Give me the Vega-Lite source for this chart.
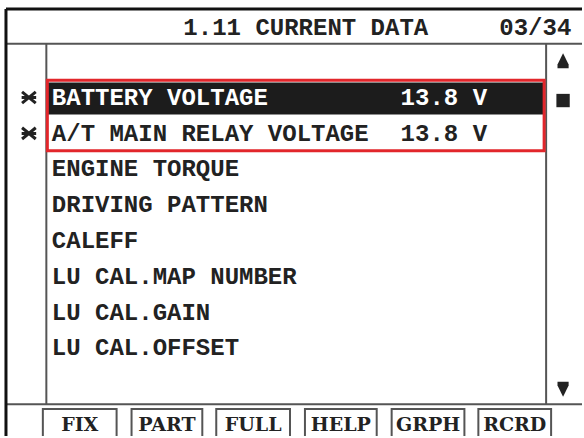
{
  "$schema": "https://vega.github.io/schema/vega-lite/v6.json",
  "width": 584,
  "height": 438,
  "autosize": {"type": "fit", "contains": "padding"},
  "padding": 0,
  "background": "white",
  "config": {"view": {"stroke": null}},
  "datasets": {
    "lines": [
      {"x1": 6, "y1": 9, "x2": 584, "y2": 9, "kind": "border"},
      {"x1": 6, "y1": 9, "x2": 6, "y2": 438, "kind": "border"},
      {"x1": 6, "y1": 44, "x2": 584, "y2": 44, "kind": "grid"},
      {"x1": 46.5, "y1": 44, "x2": 46.5, "y2": 406, "kind": "grid"},
      {"x1": 548, "y1": 44, "x2": 548, "y2": 406, "kind": "grid"},
      {"x1": 6, "y1": 406, "x2": 584, "y2": 406, "kind": "grid"}
    ],
    "buttons": [
      {"label": "FIX", "x1": 43, "x2": 117},
      {"label": "PART", "x1": 132, "x2": 203},
      {"label": "FULL", "x1": 217, "x2": 291},
      {"label": "HELP", "x1": 306, "x2": 378},
      {"label": "GRPH", "x1": 393, "x2": 466},
      {"label": "RCRD", "x1": 480, "x2": 553}
    ],
    "rows": [
      {"label": "BATTERY VOLTAGE", "value": "13.8 V", "y": 98, "sel": "yes"},
      {"label": "A/T MAIN RELAY VOLTAGE", "value": "13.8 V", "y": 135, "sel": "no"},
      {"label": "ENGINE TORQUE", "value": "", "y": 170, "sel": "no"},
      {"label": "DRIVING PATTERN", "value": "", "y": 206, "sel": "no"},
      {"label": "CALEFF", "value": "", "y": 242, "sel": "no"},
      {"label": "LU CAL.MAP NUMBER", "value": "", "y": 278, "sel": "no"},
      {"label": "LU CAL.GAIN", "value": "", "y": 314, "sel": "no"},
      {"label": "LU CAL.OFFSET", "value": "", "y": 350, "sel": "no"}
    ],
    "stars": [
      {"x": 29, "y": 98},
      {"x": 29, "y": 134}
    ],
    "arrows": [
      {"x": 565, "y": 61, "shape": "M0,-1L0.75,0.5L0.75,1L-0.75,1L-0.75,0.5Z"},
      {"x": 565, "y": 101, "shape": "M-0.9,-0.9L0.9,-0.9L0.9,0.9L-0.9,0.9Z"},
      {"x": 565, "y": 391, "shape": "M0,1L0.75,-0.5L0.75,-1L-0.75,-1L-0.75,-0.5Z"}
    ]
  },
  "layer": [
    {
      "data": {"values": [{"x1": 48, "x2": 546, "y1": 83, "y2": 115}]},
      "mark": {"type": "rect", "color": "#1c1c1c"},
      "encoding": {
        "x": {"field": "x1", "type": "quantitative", "scale": {"domain": [0, 584], "nice": false, "zero": false}, "axis": null},
        "x2": {"field": "x2"},
        "y": {"field": "y1", "type": "quantitative", "scale": {"domain": [0, 438], "nice": false, "zero": false, "reverse": true}, "axis": null},
        "y2": {"field": "y2"}
      }
    },
    {
      "data": {"name": "lines"},
      "transform": [{"filter": "datum.kind == 'grid'"}],
      "mark": {"type": "rule", "color": "#555555", "strokeWidth": 2},
      "encoding": {
        "x": {"field": "x1", "type": "quantitative", "scale": {"domain": [0, 584], "nice": false, "zero": false}, "axis": null},
        "x2": {"field": "x2"},
        "y": {"field": "y1", "type": "quantitative", "scale": {"domain": [0, 438], "nice": false, "zero": false, "reverse": true}, "axis": null},
        "y2": {"field": "y2"}
      }
    },
    {
      "data": {"name": "lines"},
      "transform": [{"filter": "datum.kind == 'border'"}],
      "mark": {"type": "rule", "color": "#111111", "strokeWidth": 3},
      "encoding": {
        "x": {"field": "x1", "type": "quantitative", "scale": {"domain": [0, 584], "nice": false, "zero": false}, "axis": null},
        "x2": {"field": "x2"},
        "y": {"field": "y1", "type": "quantitative", "scale": {"domain": [0, 438], "nice": false, "zero": false, "reverse": true}, "axis": null},
        "y2": {"field": "y2"}
      }
    },
    {
      "data": {"values": [{"x1": 47.5, "x2": 546, "y1": 80.5, "y2": 151.5}]},
      "mark": {"type": "rect", "fill": null, "fillOpacity": 0, "stroke": "#e2262b", "strokeWidth": 3},
      "encoding": {
        "x": {"field": "x1", "type": "quantitative", "scale": {"domain": [0, 584], "nice": false, "zero": false}, "axis": null},
        "x2": {"field": "x2"},
        "y": {"field": "y1", "type": "quantitative", "scale": {"domain": [0, 438], "nice": false, "zero": false, "reverse": true}, "axis": null},
        "y2": {"field": "y2"}
      }
    },
    {
      "data": {"name": "buttons"},
      "transform": [{"calculate": "411", "as": "y1"}, {"calculate": "445", "as": "y2"}],
      "mark": {"type": "rect", "fill": null, "fillOpacity": 0, "stroke": "#555555", "strokeWidth": 2, "clip": true},
      "encoding": {
        "x": {"field": "x1", "type": "quantitative", "scale": {"domain": [0, 584], "nice": false, "zero": false}, "axis": null},
        "x2": {"field": "x2"},
        "y": {"field": "y1", "type": "quantitative", "scale": {"domain": [0, 438], "nice": false, "zero": false, "reverse": true}, "axis": null},
        "y2": {"field": "y2"}
      }
    },
    {
      "data": {"name": "buttons"},
      "transform": [{"calculate": "(datum.x1 + datum.x2) / 2", "as": "xc"}, {"calculate": "433", "as": "yb"}],
      "mark": {"type": "text", "font": "DejaVu Serif", "fontWeight": "bold", "fontSize": 19, "color": "#222222", "align": "center", "baseline": "alphabetic"},
      "encoding": {
        "x": {"field": "xc", "type": "quantitative", "scale": {"domain": [0, 584], "nice": false, "zero": false}, "axis": null},
        "y": {"field": "yb", "type": "quantitative", "scale": {"domain": [0, 438], "nice": false, "zero": false, "reverse": true}, "axis": null},
        "text": {"field": "label"}
      }
    },
    {
      "data": {"values": [{"t": "1.11 CURRENT DATA", "x": 184, "y": 35}, {"t": "03/34", "x": 501, "y": 35}]},
      "mark": {"type": "text", "font": "Liberation Mono", "fontWeight": "bold", "fontSize": 24, "color": "#222222", "align": "left", "baseline": "alphabetic"},
      "encoding": {
        "x": {"field": "x", "type": "quantitative", "scale": {"domain": [0, 584], "nice": false, "zero": false}, "axis": null},
        "y": {"field": "y", "type": "quantitative", "scale": {"domain": [0, 438], "nice": false, "zero": false, "reverse": true}, "axis": null},
        "text": {"field": "t"}
      }
    },
    {
      "data": {"name": "rows"},
      "transform": [{"calculate": "52", "as": "xl"}, {"calculate": "402", "as": "xv"}],
      "layer": [
        {
          "mark": {"type": "text", "font": "Liberation Mono", "fontWeight": "bold", "fontSize": 24, "align": "left", "baseline": "middle"},
          "encoding": {
            "x": {"field": "xl", "type": "quantitative", "scale": {"domain": [0, 584], "nice": false, "zero": false}, "axis": null},
            "y": {"field": "y", "type": "quantitative", "scale": {"domain": [0, 438], "nice": false, "zero": false, "reverse": true}, "axis": null},
            "text": {"field": "label"},
            "color": {"field": "sel", "type": "nominal", "scale": {"domain": ["yes", "no"], "range": ["#ffffff", "#222222"]}, "legend": null}
          }
        },
        {
          "mark": {"type": "text", "font": "Liberation Mono", "fontWeight": "bold", "fontSize": 24, "align": "left", "baseline": "middle"},
          "encoding": {
            "x": {"field": "xv", "type": "quantitative", "scale": {"domain": [0, 584], "nice": false, "zero": false}, "axis": null},
            "y": {"field": "y", "type": "quantitative", "scale": {"domain": [0, 438], "nice": false, "zero": false, "reverse": true}, "axis": null},
            "text": {"field": "value"},
            "color": {"field": "sel", "type": "nominal", "scale": {"domain": ["yes", "no"], "range": ["#ffffff", "#222222"]}, "legend": null}
          }
        }
      ]
    },
    {
      "data": {"name": "stars"},
      "mark": {"type": "point", "filled": false, "color": "#222222", "strokeWidth": 3, "size": 260, "opacity": 1, "shape": "M-0.85,-0.7L0.85,0.7M-0.85,0.7L0.85,-0.7M-0.9,0L0.9,0"},
      "encoding": {
        "x": {"field": "x", "type": "quantitative", "scale": {"domain": [0, 584], "nice": false, "zero": false}, "axis": null},
        "y": {"field": "y", "type": "quantitative", "scale": {"domain": [0, 438], "nice": false, "zero": false, "reverse": true}, "axis": null}
      }
    },
    {
      "data": {"name": "arrows"},
      "mark": {"type": "point", "filled": true, "color": "#222222", "size": 220, "opacity": 1},
      "encoding": {
        "x": {"field": "x", "type": "quantitative", "scale": {"domain": [0, 584], "nice": false, "zero": false}, "axis": null},
        "y": {"field": "y", "type": "quantitative", "scale": {"domain": [0, 438], "nice": false, "zero": false, "reverse": true}, "axis": null},
        "shape": {"field": "shape", "type": "nominal", "scale": null, "legend": null}
      }
    }
  ]
}
